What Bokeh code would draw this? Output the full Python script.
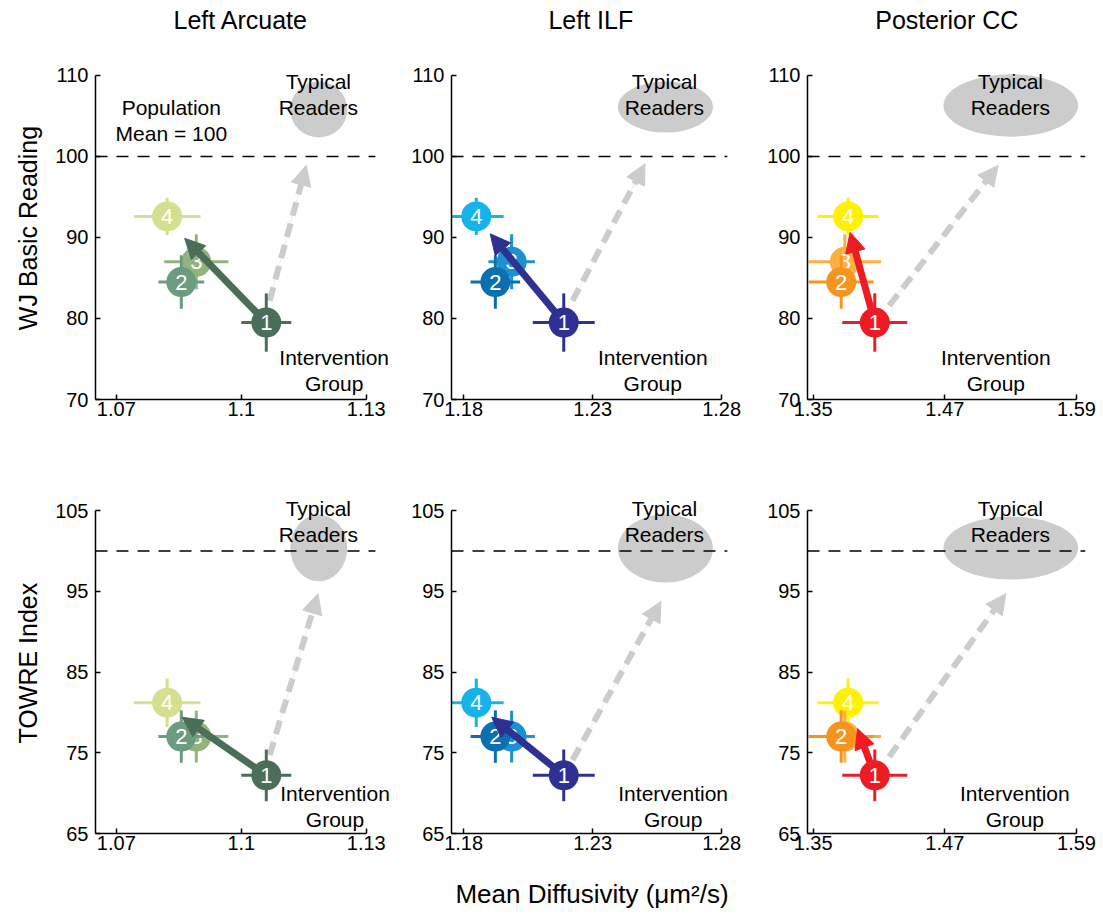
import math

from bokeh.plotting import figure
from bokeh.models import Arrow, NormalHead, Label, FixedTicker
from bokeh.layouts import column, row
from bokeh.core.properties import value
from bokeh.embed import file_html
from bokeh.resources import INLINE

# ---------------------------------------------------------------- data
sessions = ["1", "2", "3", "4"]
tracts = ["Left Arcuate", "Left ILF", "Posterior CC"]
score_names = ["WJ Basic Reading", "TOWRE Index"]

# mean diffusivity (um^2/s) per session with standard error
md_arcuate = [1.1060, 1.0856, 1.0892, 1.0822]
md_arcuate_err = [0.0060, 0.0055, 0.0077, 0.0080]
md_ilf = [1.2188, 1.1923, 1.1986, 1.1849]
md_ilf_err = [0.0120, 0.0096, 0.0090, 0.0106]
md_cc = [1.4062, 1.3756, 1.3789, 1.3819]
md_cc_err = [0.0296, 0.0295, 0.0330, 0.0278]

# reading scores per session with standard error
wj_basic = [79.5, 84.5, 87.0, 92.6]
wj_basic_err = [3.6, 3.3, 3.4, 2.3]
towre = [72.2, 77.0, 77.0, 81.2]
towre_err = [3.2, 3.25, 3.2, 3.0]

# end point of the intervention change arrow (starts at session 1)
change_end_md_wj = [1.0864, 1.1903, 1.3837]
change_end_wj = [89.9, 90.45, 90.65]
change_end_md_towre = [1.0858, 1.1909, 1.3905]
change_end_towre = [79.4, 79.4, 78.0]

# typical readers: ellipse centre and extent
typical_md = [1.1186, 1.2582, 1.5301]
typical_md_width = [0.0137, 0.0368, 0.1227]
typical_wj = [105.8, 106.1, 106.3]
typical_wj_height = [6.9, 6.3, 7.7]
typical_towre = [100.35, 100.3, 100.35]
typical_towre_height = [8.25, 8.45, 7.8]

# dashed arrow pointing toward the typical readers
toward_start_md = [1.1068, 1.2222, 1.4193]
toward_end_md_wj = [1.1156, 1.2503, 1.5186]
toward_start_wj = [82.2, 82.2, 81.6]
toward_end_wj = [98.9, 99.1, 98.9]
toward_end_md_towre = [1.1184, 1.2565, 1.5256]
toward_start_towre = [74.7, 74.1, 74.5]
toward_end_towre = [94.7, 93.75, 94.7]

population_mean = 100

md_ticks = [[1.07, 1.1, 1.13], [1.18, 1.23, 1.28], [1.35, 1.47, 1.59]]
md_tick_labels = [["1.07", "1.1", "1.13"], ["1.18", "1.23", "1.28"],
                  ["1.35", "1.47", "1.59"]]
wj_ticks = [70, 80, 90, 100, 110]
towre_ticks = [65, 75, 85, 95, 105]

greens = ["#4b6e59", "#6b9b80", "#92b47c", "#d4e090"]
blues = ["#2e3192", "#0b6fb0", "#1b90d2", "#16b2ea"]
reds = ["#ed1c24", "#f7941d", "#fbb040", "#fff200"]

# ---------------------------------------------------------------- style
FONT = "Liberation Sans"
GREY = "#cccccc"

# visible x extent of each column (axis drawn only up to the last tick)
x_view = [(1.065, 1.1375), (1.1753, 1.2842), (1.3449, 1.5982)]
dash_end = [1.1322, 1.2822, 1.5982]
frame_w = [302, 281, 278]
border_l = [45, 50, 65]
border_r = [4, 10, 14]
LABEL_W = 50

# frame extends above the top tick so titles and notes have room
y_view = [(70, 118.64), (65, 107.48)]
frame_h = [394, 343]
border_t = [5, 41]
border_b = [50, 81]

title_pos = [(1.0999, 116.79), (1.2293, 116.79), (1.4718, 116.79)]
score_label_pos = [(0.54, 91.17), (0.54, 86.1)]
typical_pos = [[(1.1185, 109.2), (1.2578, 109.2), (1.5297, 109.2)],
               [(1.1185, 105.3), (1.2578, 105.2), (1.5297, 105.2)]]
group_pos = [[(1.1223, 75.2), (1.2533, 75.2), (1.5165, 75.2)],
             [(1.1225, 70.0), (1.2612, 69.95), (1.5338, 69.95)]]
population_pos = (1.0832, 106.1)
LINE = 26


def note(p, x, y, text, size="21px", off=0):
    p.add_layout(Label(x=x, y=y, y_offset=off, text=text,
                       text_align="center", text_baseline="middle",
                       text_font=FONT, text_font_size=size,
                       text_color="black"))


def two_lines(p, pos, first, second):
    note(p, pos[0], pos[1], first)
    note(p, pos[0], pos[1], second, off=-LINE)


def draw_point(p, md, md_err, score, score_err, i, color, level="glyph"):
    x, y = md[i], score[i]
    p.segment(x0=[x - md_err[i]], y0=[y], x1=[x + md_err[i]], y1=[y],
              line_color=color, line_width=3, level=level)
    p.segment(x0=[x], y0=[y - score_err[i]], x1=[x], y1=[y + score_err[i]],
              line_color=color, line_width=3, level=level)
    p.scatter(x=[x], y=[y], size=30, fill_color=color, line_color=None,
              level=level)
    p.text(x=[x], y=[y], text=[sessions[i]], text_color="white",
           text_font=value(FONT), text_font_size="22px",
           text_align="center", text_baseline="middle", level=level)


def score_label(r):
    # narrow strip holding the rotated score name for each row
    p = figure(frame_width=LABEL_W, frame_height=frame_h[r],
               x_range=(0, 1), y_range=y_view[r], title=None,
               x_axis_location=None, y_axis_location=None,
               output_backend="svg", toolbar_location=None,
               min_border_left=0, min_border_right=0,
               min_border_top=border_t[r], min_border_bottom=border_b[r],
               background_fill_color="white", border_fill_color="white")
    p.grid.visible = False
    p.outline_line_color = None
    x, y = score_label_pos[r]
    p.text(x=[x], y=[y], text=[score_names[r]], angle=math.pi / 2,
           text_font=value(FONT), text_font_size="25px", text_color="black",
           text_align="center", text_baseline="middle")
    return p


def panel(c, r):
    md = [md_arcuate, md_ilf, md_cc][c]
    md_err = [md_arcuate_err, md_ilf_err, md_cc_err][c]
    colors = [greens, blues, reds][c]
    if r == 0:
        score, score_err, ticks = wj_basic, wj_basic_err, wj_ticks
        end_x, end_y = change_end_md_wj[c], change_end_wj[c]
        typ_y, typ_h = typical_wj[c], typical_wj_height[c]
        tw_y0, tw_x1, tw_y1 = toward_start_wj[c], toward_end_md_wj[c], toward_end_wj[c]
    else:
        score, score_err, ticks = towre, towre_err, towre_ticks
        end_x, end_y = change_end_md_towre[c], change_end_towre[c]
        typ_y, typ_h = typical_towre[c], typical_towre_height[c]
        tw_y0, tw_x1, tw_y1 = toward_start_towre[c], toward_end_md_towre[c], toward_end_towre[c]

    p = figure(frame_width=frame_w[c], frame_height=frame_h[r],
               x_range=x_view[c], y_range=y_view[r], title=None,
               output_backend="svg", toolbar_location=None,
               min_border_left=border_l[c], min_border_right=border_r[c],
               min_border_top=border_t[r], min_border_bottom=border_b[r],
               background_fill_color="white", border_fill_color="white")
    p.grid.visible = False
    p.outline_line_color = None

    # axes
    p.xaxis.ticker = FixedTicker(ticks=md_ticks[c])
    p.xaxis.major_label_overrides = dict(zip(md_ticks[c], md_tick_labels[c]))
    p.xaxis.bounds = (x_view[c][0], md_ticks[c][-1])
    p.yaxis.ticker = FixedTicker(ticks=ticks)
    p.yaxis.bounds = (ticks[0], ticks[-1])
    for ax in (p.xaxis[0], p.yaxis[0]):
        ax.axis_line_width = 1.5
        ax.axis_line_color = "black"
        ax.major_tick_line_width = 1.5
        ax.major_tick_line_color = "black"
        ax.major_tick_in = 5
        ax.major_tick_out = 0
        ax.minor_tick_line_color = None
        ax.major_label_text_font = FONT
        ax.major_label_text_font_size = "20px"
        ax.major_label_text_color = "black"
        ax.axis_label_text_font = FONT
        ax.axis_label_text_font_size = "26px"
        ax.axis_label_text_font_style = "normal"
        ax.axis_label_text_color = "black"
    p.xaxis.major_label_standoff = 2
    p.yaxis.major_label_standoff = 7
    p.xaxis.axis_label_standoff = 26

    if r == 1 and c == 1:
        p.xaxis.axis_label = "Mean Diffusivity (\u03bcm\u00b2/s)"
    if r == 0:
        note(p, title_pos[c][0], title_pos[c][1], tracts[c], size="25px")

    # path toward typical readers
    p.segment(x0=[toward_start_md[c]], y0=[tw_y0], x1=[tw_x1], y1=[tw_y1],
              line_color="#eeeeee", line_width=1, level="underlay")
    p.add_layout(Arrow(end=NormalHead(size=20, fill_color=GREY, line_color=GREY),
                       x_start=toward_start_md[c], y_start=tw_y0,
                       x_end=tw_x1, y_end=tw_y1, line_color=GREY,
                       line_width=6, line_dash="14 8", level="underlay"))

    # typical readers
    p.ellipse(x=[typical_md[c]], y=[typ_y], width=[typical_md_width[c]],
              height=[typ_h], fill_color=GREY, line_color=None)

    # population mean reference line
    p.segment(x0=[x_view[c][0]], y0=[population_mean], x1=[dash_end[c]],
              y1=[population_mean], line_color="black", line_width=1.5,
              line_dash="12 9")

    # sessions 4, 3, 2 then the change arrow, then session 1 on top
    for i in (3, 2, 1):
        draw_point(p, md, md_err, score, score_err, i, colors[i])
    p.add_layout(Arrow(end=NormalHead(size=20, fill_color=colors[0],
                                      line_color=colors[0]),
                       x_start=md[0], y_start=score[0], x_end=end_x, y_end=end_y,
                       line_color=colors[0], line_width=7))
    draw_point(p, md, md_err, score, score_err, 0, colors[0], level="overlay")

    two_lines(p, typical_pos[r][c], "Typical", "Readers")
    two_lines(p, group_pos[r][c], "Intervention", "Group")
    if r == 0 and c == 0:
        two_lines(p, population_pos, "Population", f"Mean = {population_mean}")
    return p


layout = column(row(score_label(0), *[panel(c, 0) for c in range(3)]),
                row(score_label(1), *[panel(c, 1) for c in range(3)]))

open("out.html", "w").write(file_html(layout, INLINE, title="Reading intervention"))
